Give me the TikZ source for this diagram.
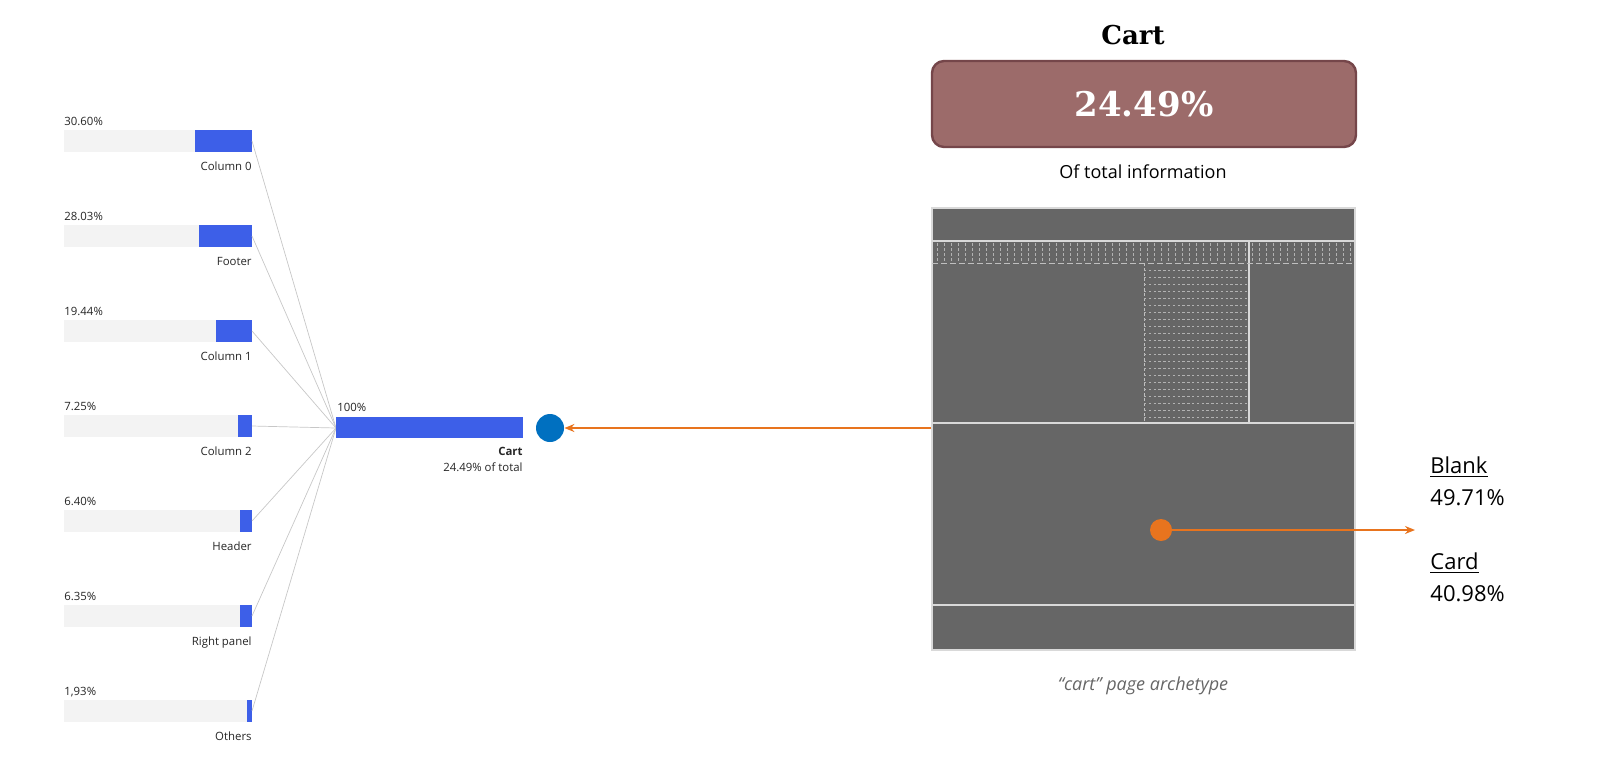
\documentclass[tikz,border=0pt]{standalone}
\usepackage{fontspec}
\setmainfont{Open Sans}
\newfontfamily\serifb{DejaVu Serif}
\usetikzlibrary{arrows.meta}
\definecolor{barblue}{HTML}{3D5FE8}
\definecolor{bargray}{HTML}{F3F3F3}
\definecolor{dotblue}{HTML}{0070C0}
\definecolor{orng}{HTML}{E8741E}
\definecolor{boxfill}{HTML}{9C6B6A}
\definecolor{boxline}{HTML}{75464A}
\definecolor{pagegray}{HTML}{666666}
\begin{document}
\begin{tikzpicture}[x=0.5pt,y=-0.5pt,
  small/.style={font=\fontsize{5.7}{6}\selectfont,text=black!85,inner sep=0},
  conn/.style={draw=black!22,line width=0.35pt},
  pline/.style={draw=white!85!black,line width=0.6pt},
  big/.style={font=\fontsize{11}{13}\selectfont,inner sep=0,anchor=west}]
\useasboundingbox (0,0) rectangle (1600,766);
% left bars
\foreach \y/\b/\p/\n [count=\i] in {141/195/30.60\%/Column 0,236/199/28.03\%/Footer,331/216/19.44\%/Column 1,426/238/7.25\%/Column 2,521/240/6.40\%/Header,616/240/6.35\%/Right panel,711/247/1{,}93\%/Others}{
  \fill[bargray] (64,\y-11) rectangle (252,\y+11);
  \fill[barblue] (\b,\y-11) rectangle (252,\y+11);
  \node[small,anchor=base west] at (64,\y-16) {\p};
  \node[small,anchor=base east] at (252,\y+29) {\n};
  \coordinate (b\i) at (252,\y);
}
\coordinate (hub) at (336,428);
\foreach \i in {1,...,7} \draw[conn] (b\i) -- (hub);
\fill[barblue] (336,417) rectangle (523,438);
\node[small,anchor=base west] at (337,411) {100\%};
\node[small,anchor=base east,font=\fontsize{5.7}{6}\selectfont\bfseries] at (523,455) {Cart};
\node[small,anchor=base east] at (523,471) {24.49\% of total};
\node[circle,fill=dotblue,minimum size=14pt,inner sep=0] (bd) at (550,428) {};
% right side
\node[font=\serifb\bfseries\fontsize{13}{16}\selectfont] (title) at (1133,35) {Cart};
\draw[boxline,fill=boxfill,line width=1.2pt,rounded corners=6pt] (932,61) rectangle (1356,147);
\node[font=\serifb\bfseries\fontsize{17}{22}\selectfont,text=white] (val) at (1144,104) {24.49\%};
\node[font=\fontsize{9}{11}\selectfont] (oti) at (1143,172) {Of total information};
\fill[pagegray] (932,208) rectangle (1355,650);
\draw[pline] (932,208) rectangle (1355,650);
\draw[pline] (932,241) -- (1355,241);
\draw[pline] (932,423) -- (1355,423);
\draw[pline] (932,605) -- (1355,605);
\draw[pline] (1249,241) -- (1249,423);
\draw[white!75!black,line width=0.35pt,dash pattern=on 3pt off 1.5pt] (932,263) -- (1355,263);
\foreach \x in {937,944,...,1350} \draw[white!70!black,line width=0.25pt,dash pattern=on 1.5pt off 1pt] (\x,243) -- (\x,261);
\draw[white!75!black,line width=0.35pt,dash pattern=on 1.5pt off 1pt] (1144,263) -- (1144,423);
\foreach \y in {270,277,...,420} \draw[white!70!black,line width=0.25pt,dash pattern=on 1.2pt off 1.2pt] (1144,\y) -- (1249,\y);
\coordinate (pl) at (931,428);
\draw[orng,line width=0.8pt,-{Stealth[length=5pt,width=4pt]}] (pl) -- (bd);
\node[circle,fill=orng,minimum size=11pt,inner sep=0] (od) at (1161,530) {};
\coordinate (ae) at (1415,530);
\draw[orng,line width=0.8pt,-{Stealth[length=5pt,width=4pt]}] (od) -- (ae);
\node[big] at (1430,467) {\underline{Blank}};
\node[big] at (1430,498) {49.71\%};
\node[big] at (1430,563) {\underline{Card}};
\node[big] at (1430,594) {40.98\%};
\node[font=\itshape\fontsize{9}{11}\selectfont,text=black!60] at (1143,686) {“cart” page archetype};
\end{tikzpicture}
\end{document}
